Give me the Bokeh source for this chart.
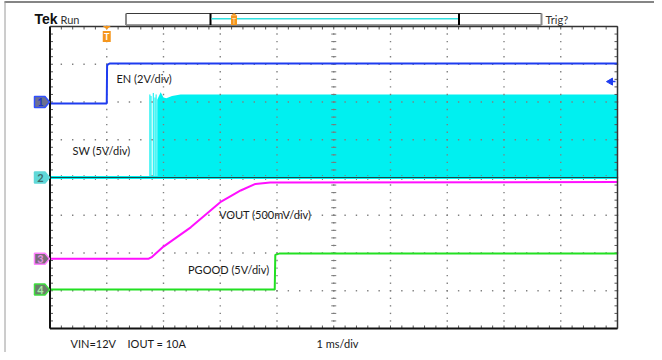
import numpy as np
from bokeh.plotting import figure
from bokeh.models import Range1d
from bokeh.core.properties import value
from bokeh.embed import file_html
from bokeh.resources import INLINE

# ---------------- data (time in ms from left of screen, 1 ms/div) ----------------
ch_names = ["1", "2", "3", "4"]
ch_volts_per_div = [2.0, 5.0, 0.5, 5.0]
ch_offset_div = [2.0, 0.0, -2.15, -2.97]

en_t = [0.0, 1.0, 1.006, 1.05, 10.0]
en_v = [-0.08, -0.08, 1.95, 2.04, 2.04]

sw_base_t = [0.0, 10.0]
sw_base_v = [0.0, 0.0]
sw_pulse_t = [1.76, 1.78, 1.82, 1.85, 1.87]
sw_pulse_v = [11.0, 10.8, 11.2, 10.6, 11.0]
sw_env_t = [1.89, 1.95, 2.0, 2.05, 2.15, 2.3, 10.0]
sw_env_v = [10.3, 11.3, 10.6, 10.5, 10.8, 11.0, 11.0]

vout_t = [0.0, 1.74, 1.80, 2.0, 2.48, 3.0, 3.2, 3.36, 3.62, 3.88, 10.0]
vout_v = [0.0, 0.0, 0.025, 0.16, 0.415, 0.748, 0.836, 0.903, 0.99, 1.01, 1.015]

pg_t = [0.0, 3.96, 3.97, 4.05, 10.0]
pg_v = [0.0, 0.0, 4.6, 4.8, 4.8]

trig_time = 1.0
trig_level_v = 1.08

labels = ["EN (2V/div)", "SW (5V/div)", "VOUT (500mV/div)", "PGOOD (5V/div)"]
footer = ["VIN=12V", "IOUT = 10A", "1 ms/div"]

# ---------------- geometry helpers (image px -> div) ----------------
PX_X, PX_Y, X0, Y0 = 56.75, 37.75, 49.5, 177.0
def dx(px): return (px - X0) / PX_X
def dy(py): return (Y0 - py) / PX_Y
def wx(px): return px / PX_X
def wy(py): return py / PX_Y

def scr(ch, vals):
    return [ch_offset_div[ch] + v / ch_volts_per_div[ch] for v in vals]

W, H = 654, 352
p = figure(width=W, height=H, x_range=Range1d(dx(0), dx(W)), y_range=Range1d(dy(H), dy(0)),
           x_axis_type=None, y_axis_type=None, toolbar_location=None, output_backend="svg",
           min_border=0)
p.outline_line_color = None
p.background_fill_color = "white"
p.border_fill_color = "white"

BLUE, CYAN, MAG, GREEN = "#1e3cf0", "#00f0f0", "#ff10ff", "#22e022"
ORANGE = "#f5961d"
FONT = value("Lato")

# outer frame of the screenshot
p.segment(x0=[dx(4)], y0=[dy(1.5)], x1=[dx(W)], y1=[dy(1.5)], line_color="#858585", line_width=2)
p.segment(x0=[dx(4.5)], y0=[dy(1)], x1=[dx(4.5)], y1=[dy(H)], line_color="#9a9a9a", line_width=1)

# SW fill
p.varea(x=sw_env_t, y1=scr(1, [0] * len(sw_env_t)), y2=scr(1, sw_env_v), fill_color=CYAN)
p.segment(x0=sw_pulse_t, y0=scr(1, [0] * len(sw_pulse_t)), x1=sw_pulse_t, y1=scr(1, sw_pulse_v),
          line_color=CYAN, line_width=1)

# graticule dots
ys = np.round(np.arange(-4, 4.0001, 0.2), 3)
xs = np.round(np.arange(0, 10.0001, 0.2), 3)
gx = [i for i in range(1, 10) for _ in ys] + [x for j in range(-3, 4) for x in xs]
gy = [y for _ in range(1, 10) for y in ys] + [j for j in range(-3, 4) for _ in xs]
p.scatter(gx, gy, marker="square", size=1.4, fill_color="#808080", line_color=None)

# ticks on the frame edges
tk = 3.0
seg = dict(x0=[], y0=[], x1=[], y1=[])
cseg = dict(x0=[], y0=[], x1=[], y1=[])
def add(d, a, b, c, e):
    d["x0"].append(a); d["y0"].append(b); d["x1"].append(c); d["y1"].append(e)
for x in xs:
    add(seg, x, 4, x, 4 - wy(tk))
    add(seg, x, -4, x, -4 + wy(tk))
    add(cseg, x, -wy(2.5), x, wy(2.5))
for y in ys:
    add(seg, 0, y, wx(tk), y)
    add(seg, 10, y, 10 - wx(tk), y)
    add(cseg, 5 - wx(2.5), y, 5 + wx(2.5), y)
p.segment(**seg, line_color="#555555", line_width=1)
p.segment(**cseg, line_color="#7a7a7a", line_width=1)

# traces
p.line(sw_base_t, scr(1, sw_base_v), line_color=CYAN, line_width=3)
p.line(sw_base_t, scr(1, sw_base_v), line_color="#1d4646", line_width=1)
p.line(en_t, scr(0, en_v), line_color=BLUE, line_width=2)
p.line(vout_t, scr(2, vout_v), line_color=MAG, line_width=2)
p.line(pg_t, scr(3, pg_v), line_color=GREEN, line_width=2)

# border
p.segment(x0=[0, 0], y0=[-4, -4], x1=[0, 10], y1=[4, -4], line_color="#111111", line_width=2)
p.segment(x0=[0, 10], y0=[4, -4], x1=[10, 10], y1=[4, 4], line_color="#333333", line_width=1.5)

# channel markers
mk_fill = ["#6c7090", "#60d8d8", "#7a6a7a", "#6a806a"]
mk_line = ["#3050ff", "#60d8d8", "#ff80ff", "#40e040"]
mk_text = ["#2036c8", "#3d6b6b", "#e090e0", "#a8eca8"]
shape = [(-15.5, -5.5), (-5, -5.5), (-0.5, 0), (-5, 5.5), (-15.5, 5.5)]
pxs, pys = [], []
for off in ch_offset_div:
    pxs.append([wx(a) for a, b in shape])
    pys.append([off + wy(b) for a, b in shape])
p.patches(pxs, pys, fill_color=mk_fill, line_color=mk_line, line_width=1.5)
p.text(x=[dx(40)] * 4, y=ch_offset_div, text=ch_names, text_color=mk_text, text_font=FONT,
       text_font_size="11px", text_font_style="bold", text_align="center", text_baseline="middle")

# trigger level arrow (right side)
tl = ch_offset_div[0] + trig_level_v / ch_volts_per_div[0]
p.segment(x0=[dx(609)], y0=[tl], x1=[dx(615)], y1=[tl], line_color=BLUE, line_width=1.5)
p.scatter([dx(610)], [tl], marker="triangle", size=7, angle=np.pi / 2, fill_color=BLUE, line_color=BLUE)

# trigger position marker at top
tx = trig_time
p.patch([tx - wx(4), tx + wx(4), tx], [dy(25.5), dy(25.5), dy(29)], fill_color=ORANGE, line_color=None)
p.quad(left=[tx - wx(4)], right=[tx + wx(4)], top=[dy(30.5)], bottom=[dy(41.5)], fill_color=ORANGE,
       line_color=None)
p.text(x=[tx], y=[dy(36.3)], text=["T"], text_color="white", text_font=FONT, text_font_size="9px",
       text_font_style="bold", text_align="center", text_baseline="middle")

# record bar at top
p.segment(x0=[dx(125.5), dx(125.5)], y0=[dy(13), dy(24.5)], x1=[dx(541), dx(541)], y1=[dy(13), dy(24.5)],
          line_color="#3a3a3a", line_width=1.2)
p.segment(x0=[dx(125.5), dx(541)], y0=[dy(13), dy(13)], x1=[dx(125.5), dx(541)], y1=[dy(24.5), dy(24.5)],
          line_color="#8a8a8a", line_width=2)
p.segment(x0=[dx(210), dx(458.5)], y0=[dy(13), dy(13)], x1=[dx(210), dx(458.5)], y1=[dy(24.5), dy(24.5)],
          line_color="#000000", line_width=2)
p.segment(x0=[dx(211)], y0=[dy(18.3)], x1=[dx(457.5)], y1=[dy(18.3)], line_color="#30e0e0", line_width=1.5)
p.patch([dx(230.5), dx(236.5), dx(233.5)], [dy(15), dy(15), dy(12.5)], fill_color=ORANGE, line_color=None)
p.quad(left=[dx(230.5)], right=[dx(236.5)], top=[dy(15)], bottom=[dy(24.5)], fill_color=ORANGE,
       line_color=None)
p.text(x=[dx(233.5)], y=[dy(20)], text=["T"], text_color="#ffe0b0", text_font=FONT, text_font_size="7px",
       text_align="center", text_baseline="middle")

# header text
p.text(x=[dx(34)], y=[dy(18.5)], text=["Tek"], text_color="#111111", text_font=value("Liberation Sans"),
       text_font_size="14px", text_font_style="bold", text_baseline="middle")
p.text(x=[dx(60)], y=[dy(18.5)], text=["Run"], text_color="#333333", text_font=FONT,
       text_font_size="11px", text_baseline="middle")
p.text(x=[dx(545)], y=[dy(18.5)], text=["Trig?"], text_color="#333333", text_font=FONT,
       text_font_size="11px", text_baseline="middle")

# channel labels
p.text(x=[dx(116), dx(72), dx(218.5), dx(187.5)], y=[dy(77.5), dy(149.5), dy(214), dy(269)], text=labels,
       text_color="#1a1a1a", text_font=FONT, text_font_size="11px", text_baseline="middle")
# footer
p.text(x=[dx(70), dx(127), dx(316)], y=[dy(342.5)] * 3, text=footer, text_color="#1a1a1a", text_font=FONT,
       text_font_size="11px", text_baseline="middle")

open("out.html", "w").write(file_html(p, INLINE))
